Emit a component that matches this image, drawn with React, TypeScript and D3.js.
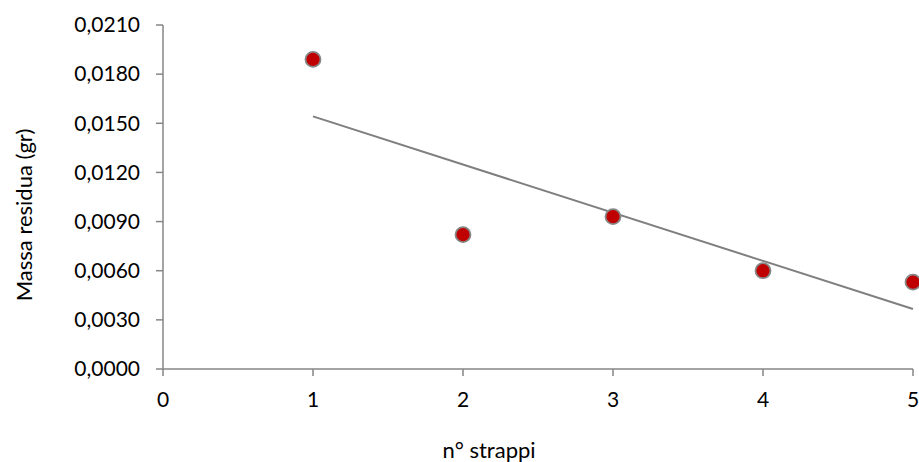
import React from "react";
import * as d3 from "d3";

const strappi = [1, 2, 3, 4, 5];
const massa = [0.0189, 0.0082, 0.0093, 0.006, 0.0053];
const xTicks = [0, 1, 2, 3, 4, 5];
const yTicks = [0, 0.003, 0.006, 0.009, 0.012, 0.015, 0.018, 0.021];
const xTitle = "n° strappi";
const yTitle = "Massa residua (gr)";

const W = 919;
const H = 462;
const FONT = "Lato, 'Open Sans', sans-serif";

export default function App() {
  const x = d3.scaleLinear().domain([0, 5]).range([163, 913]);
  const y = d3.scaleLinear().domain([0, 0.021]).range([369, 25]);

  // linear regression trendline
  const n = strappi.length;
  const mx = d3.mean(strappi) as number;
  const my = d3.mean(massa) as number;
  let sxy = 0;
  let sxx = 0;
  for (let i = 0; i < n; i++) {
    sxy += (strappi[i] - mx) * (massa[i] - my);
    sxx += (strappi[i] - mx) ** 2;
  }
  const slope = sxy / sxx;
  const intercept = my - slope * mx;
  const x0 = d3.min(strappi) as number;
  const x1 = d3.max(strappi) as number;
  const line = d3
    .line<number>()
    .x((d) => x(d))
    .y((d) => y(intercept + slope * d));

  const fmt = (v: number) => v.toFixed(4).replace(".", ",");
  const axisColor = "#868686";

  return (
    <svg
      width={W}
      height={H}
      style={{ position: "absolute", left: 0, top: 0, background: "#fff" }}
      fontFamily={FONT}
    >
      {/* Y axis */}
      <line x1={x(0)} x2={x(0)} y1={y(0.021)} y2={y(0)} stroke={axisColor} strokeWidth={1.5} />
      {yTicks.map((t) => (
        <g key={"y" + t}>
          <line x1={x(0) - 7} x2={x(0)} y1={y(t)} y2={y(t)} stroke={axisColor} strokeWidth={1.5} />
          <text
            x={140}
            y={y(t)}
            dy="0.35em"
            textAnchor="end"
            fontSize={21}
            fill="#000"
          >
            {fmt(t)}
          </text>
        </g>
      ))}
      {/* X axis */}
      <line x1={x(0)} x2={x(5)} y1={y(0)} y2={y(0)} stroke={axisColor} strokeWidth={1.5} />
      {xTicks.map((t) => (
        <g key={"x" + t}>
          <line x1={x(t)} x2={x(t)} y1={y(0)} y2={y(0) + 7} stroke={axisColor} strokeWidth={1.5} />
          <text x={x(t)} y={407} textAnchor="middle" fontSize={21} fill="#000">
            {t}
          </text>
        </g>
      ))}
      {/* trendline */}
      <path d={line([x0, x1]) as string} stroke="#7f7f7f" strokeWidth={2} fill="none" />
      {/* points */}
      {strappi.map((s, i) => (
        <circle
          key={"p" + i}
          cx={x(s)}
          cy={y(massa[i])}
          r={7.5}
          fill="#C00000"
          stroke="#878787"
          strokeWidth={1.8}
        />
      ))}
      {/* titles */}
      <text x={489} y={458} textAnchor="middle" fontSize={22} fill="#000">
        {xTitle}
      </text>
      <text
        transform={`translate(31.5, 215) rotate(-90)`}
        textAnchor="middle"
        fontSize={22}
        fill="#000"
      >
        {yTitle}
      </text>
    </svg>
  );
}
